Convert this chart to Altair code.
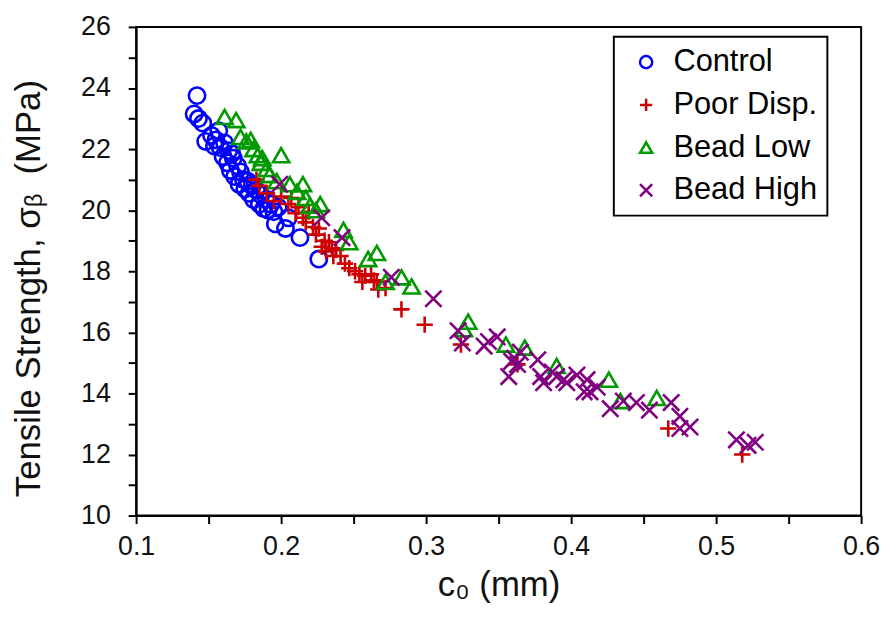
import altair as alt
import pandas as pd

series_names = ["Control", "Poor Disp.", "Bead Low", "Bead High"]
series_colors = ["#0000FF", "#CC0000", "#009900", "#800080"]
series_shapes = ["circle", "M-1,0L1,0M0,-1L0,1", "triangle-up", "M-1,-1L1,1M-1,1L1,-1"]

control_c = [0.142, 0.140, 0.143, 0.146, 0.148, 0.152, 0.154, 0.155, 0.157, 0.158,
             0.160, 0.161, 0.163, 0.164, 0.165, 0.166, 0.167, 0.168, 0.170, 0.171,
             0.172, 0.174, 0.175, 0.177, 0.178, 0.180, 0.181, 0.183, 0.185, 0.186,
             0.188, 0.190, 0.191, 0.193, 0.195, 0.196, 0.198, 0.203, 0.205, 0.213,
             0.226]
control_v = [23.75, 23.15, 23.00, 22.85, 22.25, 22.45, 22.10, 22.30, 22.60, 22.05,
             21.75, 22.20, 21.55, 21.95, 21.30, 21.85, 21.70, 21.10, 21.45, 20.85,
             21.25, 21.00, 20.70, 20.95, 20.55, 20.80, 20.35, 20.65, 20.20, 20.50,
             20.05, 20.35, 20.00, 20.20, 19.95, 19.55, 20.10, 19.40, 19.75, 19.10,
             18.40]

poor_c = [0.183, 0.185, 0.190, 0.195, 0.200, 0.205, 0.207, 0.210, 0.212, 0.215,
          0.217, 0.219, 0.222, 0.224, 0.226, 0.228, 0.230, 0.231, 0.233, 0.235,
          0.236, 0.238, 0.241, 0.244, 0.247, 0.251, 0.254, 0.256, 0.258, 0.262,
          0.264, 0.266, 0.267, 0.272, 0.283, 0.299, 0.324, 0.363, 0.467, 0.518]
poor_v = [21.00, 20.80, 20.55, 20.30, 20.45, 20.20, 20.40, 19.90, 20.10, 19.75,
          19.60, 19.95, 19.45, 19.20, 19.40, 18.80, 19.00, 18.65, 18.95, 18.75,
          18.50, 18.70, 18.50, 18.25, 18.10, 18.00, 17.90, 17.65, 17.85, 17.90,
          17.70, 17.65, 17.40, 17.45, 16.75, 16.25, 15.60, 14.95, 12.85, 12.00]

low_c = [0.161, 0.169, 0.172, 0.176, 0.179, 0.181, 0.184, 0.186, 0.187, 0.190,
         0.192, 0.197, 0.200, 0.206, 0.211, 0.215, 0.217, 0.220, 0.224, 0.227,
         0.243, 0.247, 0.260, 0.266, 0.272, 0.283, 0.290, 0.326, 0.329, 0.355,
         0.368, 0.390, 0.426, 0.434, 0.459]
low_v = [23.05, 22.95, 22.40, 22.25, 22.30, 22.00, 21.80, 21.55, 21.70, 21.35,
         21.15, 20.95, 21.80, 20.85, 20.60, 20.85, 20.40, 20.15, 20.00, 20.20,
         19.35, 18.95, 18.40, 18.60, 17.65, 17.80, 17.50, 16.10, 16.35, 15.60,
         15.50, 14.90, 14.45, 13.75, 13.85]

high_c = [0.199, 0.228, 0.242, 0.276, 0.305, 0.322, 0.325, 0.340, 0.343, 0.349,
          0.357, 0.359, 0.361, 0.363, 0.365, 0.377, 0.379, 0.381, 0.387, 0.390,
          0.395, 0.397, 0.404, 0.409, 0.411, 0.413, 0.418, 0.427, 0.436, 0.445,
          0.454, 0.469, 0.475, 0.475, 0.482, 0.514, 0.522, 0.527]
high_v = [20.85, 19.75, 19.10, 17.80, 17.10, 16.05, 15.65, 15.55, 15.70, 15.85,
          14.55, 15.05, 15.15, 14.95, 15.35, 15.10, 14.55, 14.35, 14.70, 14.55,
          14.45, 14.35, 14.60, 14.05, 14.45, 14.05, 14.20, 13.50, 13.75, 13.70,
          13.45, 13.70, 13.25, 12.85, 12.90, 12.48, 12.30, 12.40]

x_tick_values = [0.1, 0.15, 0.2, 0.25, 0.3, 0.35, 0.4, 0.45, 0.5, 0.55, 0.6]
y_tick_values = list(range(10, 27))

rows = []
for name, cs, vs in zip(series_names,
                        [control_c, poor_c, low_c, high_c],
                        [control_v, poor_v, low_v, high_v]):
    for c, v in zip(cs, vs):
        rows.append({"series": name, "c0": c, "sigma": v})
df = pd.DataFrame(rows)

FONT = "Liberation Sans"

legend = alt.Legend(
    title=None, orient="none", legendX=481, legendY=10,
    labelFontSize=31, labelFont=FONT, labelColor="black", labelLimit=400,
    symbolSize=150, symbolStrokeWidth=2.5, symbolOffset=7,
    labelOffset=12, rowPadding=11, padding=10,
    strokeColor="black", labelExpr="datum.label + '\u2003'",
)

chart = alt.Chart(df).mark_point(filled=False, strokeWidth=2.6, opacity=1, size=270).encode(
    x=alt.X("c0:Q",
            scale=alt.Scale(domain=[0.1, 0.6], nice=False, zero=False),
            axis=alt.Axis(values=x_tick_values,
                          labelExpr="abs(datum.value*10 - round(datum.value*10)) < 0.01 ? format(datum.value, '.1f') : ''",
                          title="c₀ (mm)", titleFontSize=35, titleFont=FONT,
                          titleFontWeight="normal", titlePadding=8,
                          labelFontSize=27, labelFont=FONT, labelPadding=10,
                          tickSize=8, tickWidth=2, domainWidth=2,
                          tickColor="black", domainColor="black",
                          labelColor="#111", titleColor="#111", grid=False,
                          labelFlush=False)),
    y=alt.Y("sigma:Q",
            scale=alt.Scale(domain=[10, 26], nice=False, zero=False),
            axis=alt.Axis(values=y_tick_values,
                          labelExpr="datum.value % 2 == 0 ? datum.label : ''",
                          title="Tensile Strength, σᵦ\u00a0\u00a0(MPa)", titleFontSize=35,
                          titleFont=FONT, titleFontWeight="normal", titlePadding=34,
                          titleY=263,
                          labelFontSize=27, labelFont=FONT, labelPadding=18,
                          tickSize=8, tickWidth=2, domainWidth=2,
                          tickColor="black", domainColor="black",
                          labelColor="#111", titleColor="#111", grid=False,
                          labelFlush=False)),
    color=alt.Color("series:N", scale=alt.Scale(domain=series_names, range=series_colors), legend=legend),
    shape=alt.Shape("series:N", scale=alt.Scale(domain=series_names, range=series_shapes), legend=legend),
).properties(
    width=730, height=492,
    padding={"left": 3, "top": 3, "right": 0, "bottom": 0},
).configure_view(
    stroke="black", strokeWidth=2,
).configure_legend(
    strokeWidth=2,
)

chart.save("out.html", embed_options={"renderer": "svg", "actions": False})
